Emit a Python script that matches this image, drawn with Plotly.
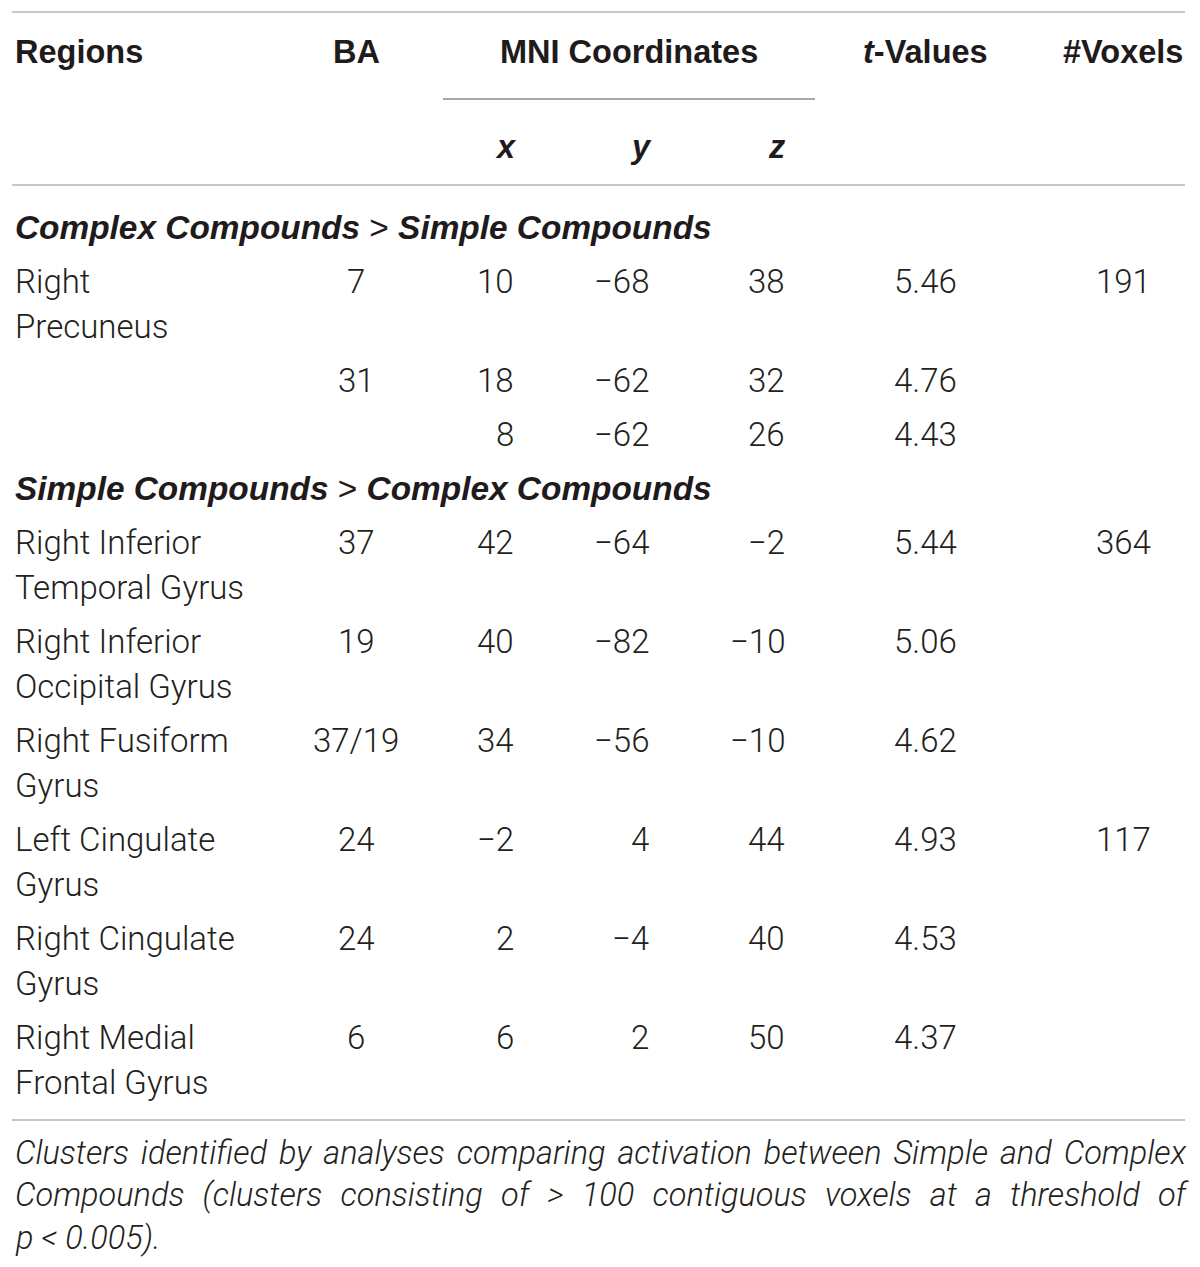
import json
import plotly.graph_objects as go

# ---------------- data ----------------
sections = ["Complex Compounds > Simple Compounds",
            "Simple Compounds > Complex Compounds"]
row_section = [0, 0, 0, 1, 1, 1, 1, 1, 1]
regions = ["Right\nPrecuneus", "", "",
           "Right Inferior\nTemporal Gyrus",
           "Right Inferior\nOccipital Gyrus",
           "Right Fusiform\nGyrus",
           "Left Cingulate\nGyrus",
           "Right Cingulate\nGyrus",
           "Right Medial\nFrontal Gyrus"]
ba = ["7", "31", "", "37", "19", "37/19", "24", "24", "6"]
mni_x = [10, 18, 8, 42, 40, 34, -2, 2, 6]
mni_y = [-68, -62, -62, -64, -82, -56, 4, -4, 2]
mni_z = [38, 32, 26, -2, -10, -10, 44, 40, 50]
t_values = [5.46, 4.76, 4.43, 5.44, 5.06, 4.62, 4.93, 4.53, 4.37]
voxels = [191, None, None, 364, None, None, 117, None, None]

caption_lines = [
    "Clusters identified by analyses comparing activation between Simple and Complex",
    "Compounds (clusters consisting of > 100 contiguous voxels at a threshold of",
    "p < 0.005).",
]
caption_justified = [True, True, False]

# ---------------- layout constants ----------------
W, H = 1200, 1267
LEFT, RIGHT = 12, 1185
TXT = "#231f20"
BODY_FONT = dict(family="Roboto, 'Liberation Sans', sans-serif", size=33, color=TXT, weight=300)
HEAD_FONT = dict(family="'Liberation Sans', Arial, sans-serif", size=32.5, color="#1f1b1c")
SEC_FONT = dict(family="'Liberation Sans', Arial, sans-serif", size=33.4, color="#1f1b1c")
CAP_FONT = dict(family="Roboto, 'Liberation Sans', sans-serif", size=32.5, color=TXT,
                weight=300, style="italic")

col_region = 13
col_ba = 356
col_x, col_y, col_z = 516, 651, 787
col_t = 925
col_vox = 1123

def fmt_num(v):
    return str(v).replace("-", "\u2212")

ann = []

def add(text, x, y, anchor="left", font=BODY_FONT, align="center"):
    ann.append(dict(text=text, x=x, y=y, xref="x", yref="y", xanchor=anchor,
                    yanchor="middle", showarrow=False, font=font, align=align))
    return len(ann) - 1

# header
add("<b>Regions</b>", col_region, 52, "left", HEAD_FONT)
add("<b>BA</b>", col_ba, 52, "center", HEAD_FONT)
add("<b>MNI Coordinates</b>", 629, 52, "center", HEAD_FONT)
add("<b><i>t</i>-Values</b>", col_t, 52, "center", HEAD_FONT)
add("<b>#Voxels</b>", col_vox, 52, "center", HEAD_FONT)
for lab, cx in zip(["x", "y", "z"], [col_x, col_y, col_z]):
    add(f"<b><i>{lab}</i></b>", cx - 10, 147, "center", HEAD_FONT)

# body rows
ROW_H, LINE_H = 54, 45
cursor = 227
cur_sec = None
for i in range(len(regions)):
    if row_section[i] != cur_sec:
        cur_sec = row_section[i]
        a, b = sections[cur_sec].split(" > ")
        add(f"<b><i>{a}</i></b> > <b><i>{b}</i></b>", col_region, cursor, "left", SEC_FONT)
        cursor += ROW_H
    lines = regions[i].split("\n") if regions[i] else [""]
    for k, ln in enumerate(lines):
        if ln:
            add(ln, col_region, cursor + k * LINE_H)
    if ba[i]:
        add(ba[i], col_ba, cursor, "center")
    add(fmt_num(mni_x[i]), col_x, cursor, "right")
    add(fmt_num(mni_y[i]), col_y, cursor, "right")
    add(fmt_num(mni_z[i]), col_z, cursor, "right")
    add(f"{t_values[i]:.2f}", col_t, cursor, "center")
    if voxels[i] is not None:
        add(str(voxels[i]), col_vox, cursor, "center")
    cursor += ROW_H + LINE_H * (len(lines) - 1)

# caption: justified lines (word spacing computed in the browser)
cap_y = [1153, 1195, 1238]
justify = []
for ln, yy, just in zip(caption_lines, cap_y, caption_justified):
    idx = add(ln, 13, yy, "left", CAP_FONT, align="left")
    if just:
        justify.append(idx)

shapes = [
    dict(type="line", x0=LEFT, x1=RIGHT, y0=12, y1=12, xref="x", yref="y",
         line=dict(color="#c8c8c8", width=2)),
    dict(type="line", x0=443, x1=815, y0=99, y1=99, xref="x", yref="y",
         line=dict(color="#a8a8a8", width=2)),
    dict(type="line", x0=LEFT, x1=RIGHT, y0=185, y1=185, xref="x", yref="y",
         line=dict(color="#c8c8c8", width=2)),
    dict(type="line", x0=LEFT, x1=RIGHT, y0=1120, y1=1120, xref="x", yref="y",
         line=dict(color="#b0b0b0", width=1.5)),
]

fig = go.Figure()
fig.update_layout(
    width=W, height=H, margin=dict(l=0, r=0, t=0, b=0),
    paper_bgcolor="white", plot_bgcolor="white",
    xaxis=dict(range=[0, W], visible=False, fixedrange=True),
    yaxis=dict(range=[H, 0], visible=False, fixedrange=True),
    annotations=ann, shapes=shapes, showlegend=False,
)

target_w = RIGHT - 1 - 13
js = """
document.body.style.margin='0';
document.body.style.overflow='hidden';
var gd = document.getElementById('{plot_id}');
var idxs = %s;
idxs.forEach(function(i){
  var t = gd.querySelector('g.annotation[data-index="' + i + '"] text.annotation-text');
  if(!t) return;
  var w = t.getComputedTextLength();
  var n = (t.textContent.match(/ /g) || []).length;
  if(n > 0){ t.style.wordSpacing = ((%d - w) / n) + 'px'; }
});
""" % (json.dumps(justify), target_w)

fig.write_html("out.html", config={"displayModeBar": False, "staticPlot": True},
               post_script=js)
